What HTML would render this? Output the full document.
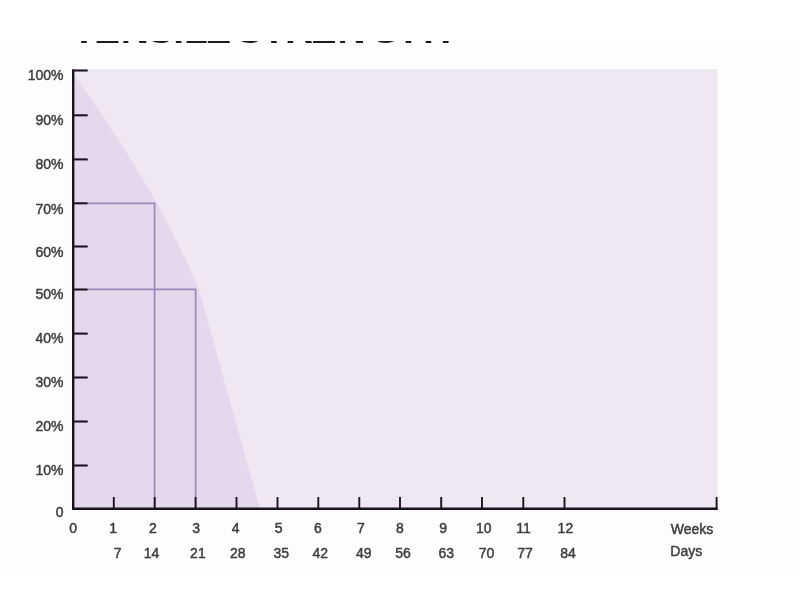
<!DOCTYPE html>
<html>
<head>
<meta charset="utf-8">
<title>Tensile Strength</title>
<style>
html,body{margin:0;padding:0;background:#fff;}
body{width:800px;height:600px;overflow:hidden;position:relative;font-family:"Liberation Sans",sans-serif;}
#slide{position:absolute;left:0;top:40px;width:800px;height:536px;background:#fdfdfd;overflow:hidden;}
svg{position:absolute;left:0;top:-40px;filter:blur(0.45px);}
svg text{font-family:"Liberation Sans",sans-serif;font-size:14px;fill:#3c3c3c;stroke:#3c3c3c;stroke-width:0.45px;}
</style>
</head>
<body>
<div id="slide">
<svg width="800" height="600" viewBox="0 0 800 600">
  <defs><clipPath id="tc"><rect x="0" y="41" width="800" height="20"/></clipPath></defs>
  <text id="ttl" clip-path="url(#tc)" x="72.1 94 120.7 147.4 173.3 184.1 205.2 226 236.4 261.9 285 310.5 337.5 370.2 396.6 422.9" y="43.2" style="font-size:39px;font-weight:bold;fill:#1c1c1c;stroke:none">TENSILE STRENGTH</text>
  <!-- plot background -->
  <rect x="74" y="69" width="643.5" height="439" fill="#efe8f2"/>
  <!-- area under curve -->
  <path d="M74 74.5 Q118.9 136.8 157 203.5 Q180.5 245.8 199 289.5 L259.4 507 L259.4 508 L74 508 Z" fill="#e4d8ec"/>
  <!-- guide lines -->
  <path d="M88 203.3 H154.6 V508 M88 289.4 H195.6 V508" fill="none" stroke="#968abc" stroke-width="1.7"/>
  <!-- axes -->
  <g stroke="#1b1420" fill="none">
    <path d="M73.2 69.2 V510" stroke-width="2.4"/>
    <path d="M72 508.7 H717.7" stroke-width="2.4"/>
    <g stroke-width="2.05" id="yt">
      <path d="M73 70.5 H87.7"/><path d="M73 115.3 H87.7"/><path d="M73 159.4 H87.7"/><path d="M73 203.3 H87.7"/><path d="M73 246.5 H87.7"/>
      <path d="M73 289.5 H87.7"/><path d="M73 333.6 H87.7"/><path d="M73 377.5 H87.7"/><path d="M73 421.5 H87.7"/><path d="M73 465.5 H87.7"/>
    </g>
    <g stroke-width="1.9" id="xt">
      <path d="M113.8 497 V508.6"/><path d="M154.7 497 V508.6"/><path d="M195.6 497 V508.6"/><path d="M236.5 497 V508.6"/><path d="M277.5 497 V508.6"/><path d="M318.3 497 V508.6"/>
      <path d="M359.3 497 V508.6"/><path d="M400 497 V508.6"/><path d="M441.2 497 V508.6"/><path d="M482 497 V508.6"/><path d="M523.3 497 V508.6"/><path d="M564.5 497 V508.6"/><path d="M716.6 497 V508.6"/>
    </g>
  </g>
  <!-- y labels -->
  <g text-anchor="end">
    <text x="63.5" y="79.8">100%</text><text x="63.5" y="124.6">90%</text><text x="63.5" y="168.7">80%</text><text x="63.5" y="213.8">70%</text><text x="63.5" y="256.5">60%</text>
    <text x="63.5" y="299.3">50%</text><text x="63.5" y="343.1">40%</text><text x="63.5" y="387.4">30%</text><text x="63.5" y="430.8">20%</text><text x="63.5" y="474.8">10%</text><text x="63.5" y="517">0</text>
  </g>
  <!-- weeks -->
  <g text-anchor="middle">
    <text x="73.1" y="533.3">0</text><text x="113.2" y="533.3">1</text><text x="153" y="533.3">2</text><text x="196.2" y="533.3">3</text><text x="235.7" y="533.3">4</text><text x="278.7" y="533.3">5</text><text x="318" y="533.3">6</text>
    <text x="361" y="533.3">7</text><text x="400" y="533.3">8</text><text x="443.2" y="533.3">9</text><text x="483.7" y="533.3">10</text><text x="523.6" y="533.3">11</text><text x="565.4" y="533.3">12</text>
  </g>
  <!-- days -->
  <g text-anchor="middle">
    <text x="117.6" y="557.8">7</text><text x="151.5" y="557.8">14</text><text x="197.9" y="557.8">21</text><text x="237.7" y="557.8">28</text><text x="281.2" y="557.8">35</text><text x="320.2" y="557.8">42</text>
    <text x="363.7" y="557.8">49</text><text x="403.1" y="557.8">56</text><text x="446.2" y="557.8">63</text><text x="486.5" y="557.8">70</text><text x="525.1" y="557.8">77</text><text x="568.1" y="557.8">84</text>
  </g>
  <text x="670.7" y="533.6">Weeks</text>
  <text x="670.3" y="556.4">Days</text>
</svg>
</div>
</body>
</html>
